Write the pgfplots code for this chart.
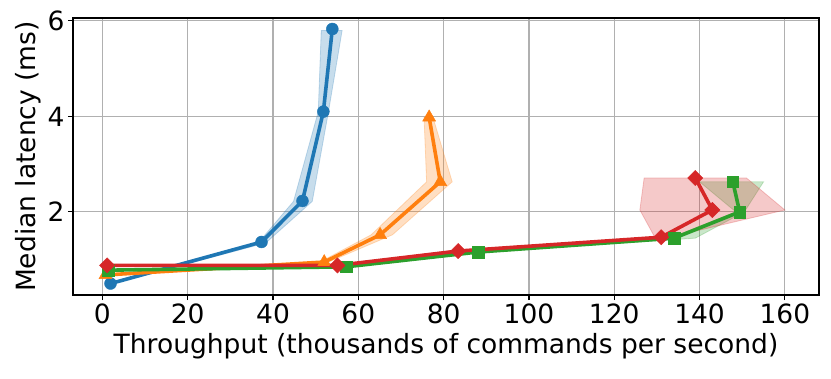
\documentclass[border=0pt]{standalone}
\usepackage{fontspec}
\setmainfont{DejaVu Sans}
\usepackage{pgfplots}
\pgfplotsset{compat=1.18}

\definecolor{tabblue}{HTML}{1F77B4}
\definecolor{taborange}{HTML}{FF7F0E}
\definecolor{tabgreen}{HTML}{2CA02C}
\definecolor{tabred}{HTML}{D62728}
\definecolor{gridgray}{HTML}{B0B0B0}

\newcommand{\lbl}{\fontsize{26.5}{31}\selectfont}

\begin{document}
\begin{tikzpicture}
  \begin{axis}[
    scale only axis,
    width=746pt, height=277pt,
    xmin=-6.9, xmax=168,
    ymin=0.26, ymax=6.06,
    xtick={0,20,...,160},
    ytick={2,4,6},
    tick pos=left,
    tick align=outside,
    major tick length=5pt,
    tick style={black, line width=1.1pt},
    axis line style={black, line width=1.1pt},
    grid=major,
    grid style={gridgray, line width=1.1pt},
    /pgf/number format/assume math mode=true,
    ticklabel style={font=\lbl},
    label style={font=\lbl},
    xlabel={Throughput (thousands of commands per second)},
    ylabel={Median latency (ms)},
    xlabel style={yshift=-3pt},
    every axis plot/.append style={line width=3.6pt},
  ]
  % shaded bands (min/max throughput at each load level)
  \addplot[fill=tabblue, fill opacity=0.25, draw=tabblue, draw opacity=0.25, line width=0.8pt] coordinates {
    (1.5,0.5) (36.5,1.35) (44.8,2.22) (50.6,4.1) (51.3,5.8)
    (56.2,5.8) (53.0,4.1) (49.2,2.22) (38.3,1.35) (2.5,0.5)
  } -- cycle;
  \addplot[fill=taborange, fill opacity=0.25, draw=taborange, draw opacity=0.25, line width=0.8pt] coordinates {
    (0.3,0.7) (51.0,0.95) (63.0,1.52) (76.0,2.63) (75.4,3.98)
    (77.5,3.98) (82.0,2.63) (68.0,1.52) (53.0,0.95) (1.2,0.7)
  } -- cycle;
  \addplot[fill=tabgreen, fill opacity=0.25, draw=tabgreen, draw opacity=0.25, line width=0.8pt] coordinates {
    (1.0,0.78) (56.5,0.85) (87.5,1.15) (133.0,1.45) (148.5,2.0) (140.0,2.63)
    (155.0,2.63) (150.5,2.0) (139.0,1.45) (89.0,1.15) (58.0,0.85) (2.0,0.78)
  } -- cycle;
  \addplot[fill=tabred, fill opacity=0.25, draw=tabred, draw opacity=0.25, line width=0.8pt] coordinates {
    (0.5,0.87) (54.5,0.88) (82.5,1.2) (129.5,1.47) (126.0,2.04) (127.0,2.71)
    (151.0,2.71) (160.0,2.04) (133.0,1.47) (84.5,1.2) (56.0,0.88) (1.5,0.87)
  } -- cycle;

  % median lines
  \addplot[tabblue, mark=*, mark size=6pt, mark options={line width=0.4pt}] coordinates {
    (1.9,0.5) (37.3,1.37) (46.9,2.23) (51.8,4.1) (53.9,5.83)
  };
  \addplot[taborange, mark=triangle*, mark size=7.5pt, mark options={line width=0.4pt}] coordinates {
    (0.7,0.68) (52.0,0.95) (65.1,1.52) (79.2,2.63) (76.6,3.98)
  };
  \addplot[tabgreen, mark=square*, mark size=5.8pt, mark options={line width=0.4pt}] coordinates {
    (1.4,0.78) (57.1,0.85) (88.1,1.16) (134.0,1.45) (149.4,2.0) (147.8,2.63)
  };
  \addplot[tabred, mark=square*, mark size=5.4pt, mark options={rotate=45, line width=0.4pt}] coordinates {
    (1.1,0.88) (55.1,0.88) (83.4,1.18) (131.0,1.47) (143.0,2.04) (139.0,2.71)
  };
  \end{axis}
  \path (current axis.south west) ++(-73pt,-83pt);
  \path (current axis.north east) ++(12pt,18pt);
\end{tikzpicture}
\end{document}
